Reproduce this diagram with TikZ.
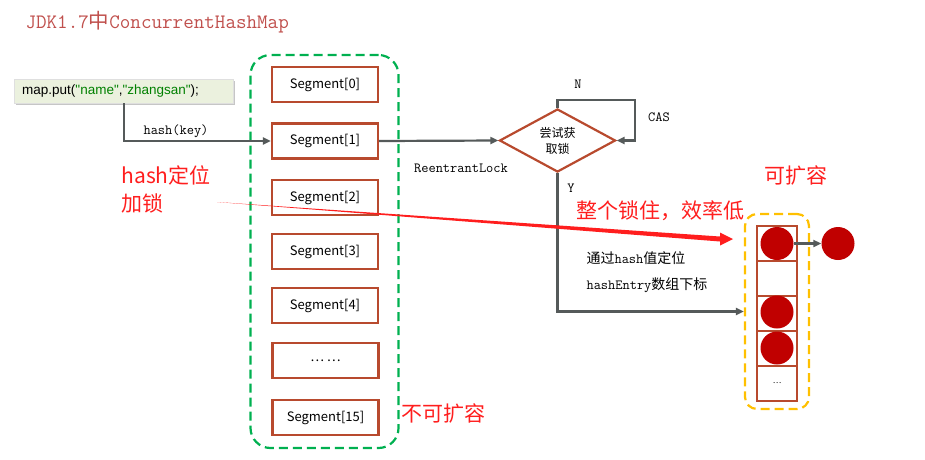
\documentclass[tikz,border=0pt]{standalone}
\usepackage{fontspec}
\setmainfont{Noto Sans CJK SC}
\newfontfamily\cjk{Noto Sans CJK SC}
\newfontfamily\arial{Liberation Sans}
\usetikzlibrary{shapes.geometric,shadows,calc,arrows.meta}
\definecolor{segred}{RGB}{184,74,46}
\definecolor{titlered}{RGB}{192,80,77}
\definecolor{ballred}{RGB}{192,0,0}
\definecolor{notered}{RGB}{255,30,30}
\definecolor{linegray}{RGB}{85,90,90}
\definecolor{dashgreen}{RGB}{0,176,80}
\definecolor{dashyellow}{RGB}{255,192,0}
\definecolor{putfill}{RGB}{235,241,222}
\definecolor{strgreen}{RGB}{0,128,0}

\begin{document}
\begin{tikzpicture}[x=1pt,y=-1pt]
\useasboundingbox (0,0) rectangle (925,459);
\tikzstyle{seg}=[draw=segred,line width=2.2pt,minimum width=106pt,minimum height=35pt,inner sep=0pt,font=\fontsize{13}{15}\selectfont]
\tikzstyle{cell}=[draw=segred,line width=2pt,minimum width=40pt,minimum height=35pt,inner sep=0pt]
\tikzstyle{ball}=[circle,fill=ballred,minimum size=33pt,inner sep=0pt]
\tikzstyle{link}=[draw=linegray,line width=2.2pt,-{Triangle[length=8pt,width=7pt]}]
\tikzstyle{mono}=[font=\ttfamily\fontsize{14}{16}\selectfont]
\tikzstyle{note}=[text=notered,font=\fontsize{21}{28}\selectfont]
\tikzstyle{frame}=[line width=2.2pt,dash pattern=on 9pt off 5pt,inner sep=0pt]

% title
\node[anchor=west,text=titlered,font=\ttfamily\fontsize{20.5}{24}\selectfont] (title) at (22,22) {JDK1.7{\cjk 中}ConcurrentHashMap};

% map.put call
\node[anchor=west,fill=putfill,draw=gray!25,text width=203pt,inner xsep=8pt,minimum height=24pt,align=left,
      font=\arial\fontsize{13.5}{16}\selectfont,drop shadow={opacity=0.45,shadow xshift=2pt,shadow yshift=-2pt}]
      (put) at (14,91) {map.put(\textcolor{strgreen}{"name"},\textcolor{strgreen}{"zhangsan"});};

% segment array
\node[frame,draw=dashgreen,rounded corners=20pt,minimum width=148pt,minimum height=393pt] (segframe) at (324.5,251.5) {};
\foreach \name/\point/\txt in {
	s0/{325,84.5}/Segment[0],
	s1/{325,141}/Segment[1],
	s2/{325,197.5}/Segment[2],
	s3/{325,251.5}/Segment[3],
	s4/{325,305.5}/Segment[4],
	sd/{325.5,360.5}/… …,
	s15/{325.5,417.5}/Segment[15]}
	\node[seg] (\name) at (\point) {\txt};

% lock
\node[diamond,draw=segred,line width=2.2pt,minimum width=116pt,minimum height=43pt,inner sep=0pt,align=center,
      font=\fontsize{12}{16}\selectfont] (lock) at (557.5,140.5) {尝试获\\取锁};
\coordinate (cas) at (635,100);

% hash entry table
\node[frame,draw=dashyellow,rounded corners=12pt,minimum width=64pt,minimum height=195pt] (table) at (777,311.5) {};
\foreach \name/\y in {c1/243.5,c2/278.5,c3/313.5,c4/348.5,c5/383.5}
	\node[cell] (\name) at (777,\y) {};
\node[font=\fontsize{8}{10}\selectfont] at (c5) {…};
\node[ball] (b1) at (777,243.5) {};
\node[ball] (b3) at (777,312) {};
\node[ball] (b4) at (777,348) {};
\node[ball] (bn) at (838,243.5) {};

% connectors
\draw[link] (put.south) |- (s1.west);
\node[mono] (hk) at (176,131) {hash(key)};
\draw[link] (s1.east) -- (lock.west);
\node[mono] (rl) at (461,168) {ReentrantLock};
\draw[link] (lock.north) |- (cas) |- (lock.east);
\node[mono] (n) at (578,84) {N};
\node[mono] (c) at (659,117) {CAS};
\draw[link] (lock.south) |- (table.west);
\node[mono] (y) at (571,188) {Y};
\draw[link] (b1.east) -- (bn.west);
\node[anchor=west,font=\fontsize{14}{16}\selectfont] (t1) at (583,258) {通过{\ttfamily hash}值定位};
\node[anchor=west,font=\fontsize{14}{16}\selectfont] (t2) at (583,285) {{\ttfamily hashEntry}数组下标};

% notes
\node[note,anchor=west,align=left] (hashlock) at (118,189) {hash定位\\加锁};
\node[note,anchor=west] (whole) at (573,211) {整个锁住，效率低};
\node[note] (grow) at (796,175) {可扩容};
\node[note,anchor=west] (nogrow) at (398,413) {不可扩容};

% red arrow
\coordinate (rs) at (217,202);
\coordinate (rb) at (720,239);
\coordinate (rt) at (733,239);
\fill[notered] (rs) -- ($(rb)+(0,-2.5)$) -- ($(rb)+(0,-6.5)$) -- (rt) -- ($(rb)+(0,6.5)$) -- ($(rb)+(0,2.5)$) -- cycle;
\end{tikzpicture}
\end{document}
